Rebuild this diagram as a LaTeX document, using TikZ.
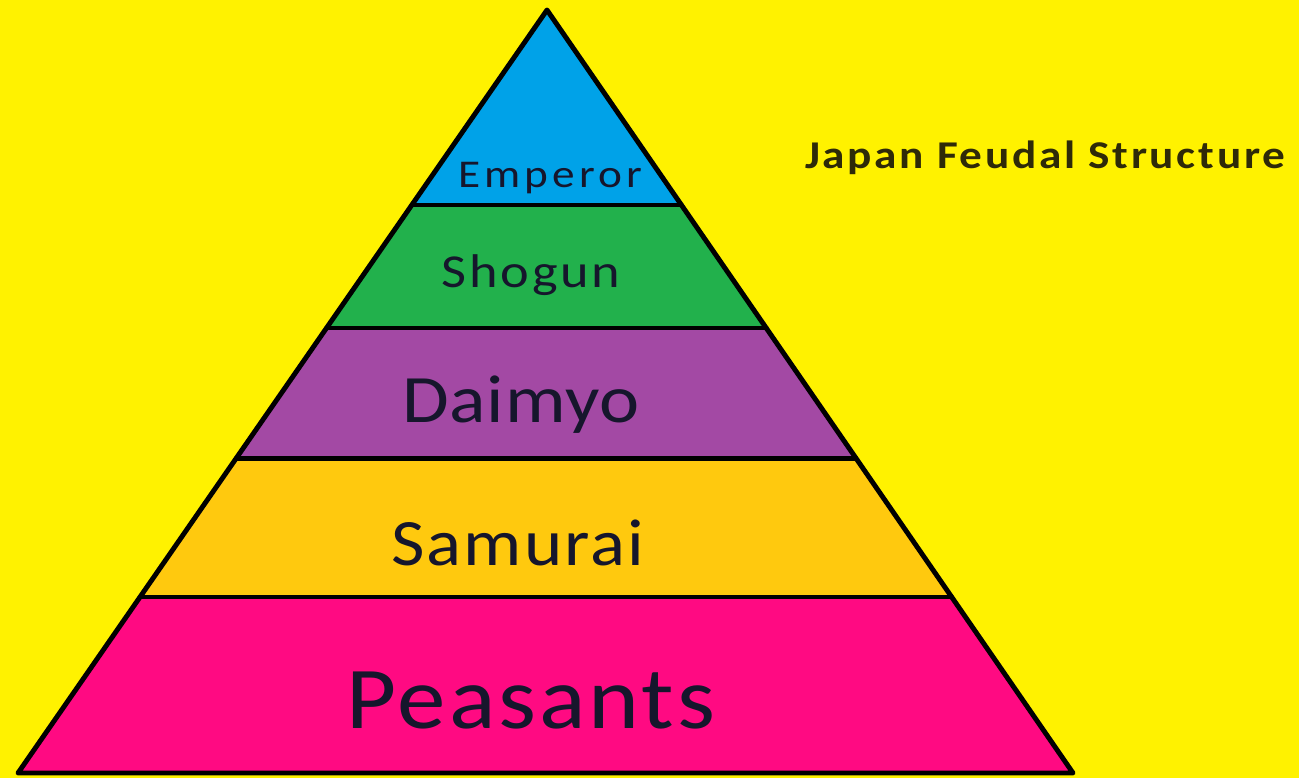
\documentclass[tikz,border=0pt]{standalone}
\usepackage{fontspec}
\usepackage{graphicx}
\setmainfont{Carlito}
\usetikzlibrary{calc}
\definecolor{bgyellow}{HTML}{FFF200}
\definecolor{emperorblue}{HTML}{00A2E8}
\definecolor{shogungreen}{HTML}{22B14C}
\definecolor{daimyopurple}{HTML}{A349A4}
\definecolor{samuraiorange}{HTML}{FFC90E}
\definecolor{peasantpink}{HTML}{FF0A82}
\definecolor{labeldark}{HTML}{16162C}
\definecolor{titledark}{HTML}{2E2A08}
\tikzset{
  edge/.style={draw=black, line width=2.8pt, line join=round, line cap=round},
  tierlabel/.style={anchor=base, inner sep=0pt, text=labeldark},
}
\begin{document}
\begin{tikzpicture}[x=0.02cm, y=-0.02cm]
\useasboundingbox (0,0) rectangle (1299,778);
\fill[bgyellow] (0,0) rectangle (1299,778);
% pyramid corners
\coordinate (A) at (547,10);
\coordinate (L) at (18,773);
\coordinate (R) at (1073,773);
% divider end points
\coordinate (l1) at ($(A)!0.2556!(L)$);
\coordinate (r1) at ($(A)!0.2556!(R)$);
\coordinate (l2) at ($(A)!0.4168!(L)$);
\coordinate (r2) at ($(A)!0.4168!(R)$);
\coordinate (l3) at ($(A)!0.5872!(L)$);
\coordinate (r3) at ($(A)!0.5872!(R)$);
\coordinate (l4) at ($(A)!0.7693!(L)$);
\coordinate (r4) at ($(A)!0.7693!(R)$);
% bands
\fill[emperorblue] (A) -- (r1) -- (l1) -- cycle;
\fill[shogungreen] (l1) -- (r1) -- (r2) -- (l2) -- cycle;
\fill[daimyopurple] (l2) -- (r2) -- (r3) -- (l3) -- cycle;
\fill[samuraiorange] (l3) -- (r3) -- (r4) -- (l4) -- cycle;
\fill[peasantpink] (l4) -- (r4) -- (R) -- (L) -- cycle;
% outlines
\draw[edge] (A) -- (R) -- (L) -- cycle;
\draw[edge] (l1) -- (r1);
\draw[edge] (l2) -- (r2);
\draw[edge] (l3) -- (r3);
\draw[edge] (l4) -- (r4);
% labels
\node[tierlabel] (emperor) at (550,187) {\scalebox{1.15}[1]{\fontsize{22.4}{26}\selectfont\addfontfeature{LetterSpace=9}Emperor}};
\node[tierlabel] (shogun) at (531,287) {\scalebox{1.15}[1]{\fontsize{26.9}{30}\selectfont\addfontfeature{LetterSpace=5}Shogun}};
\node[tierlabel] (daimyo) at (521,422) {\scalebox{1.12}[1]{\fontsize{38.6}{42}\selectfont\addfontfeature{LetterSpace=1}Daimyo}};
\node[tierlabel] (samurai) at (518,565) {\scalebox{1.1}[1]{\fontsize{37.7}{42}\selectfont\addfontfeature{LetterSpace=3}Samurai}};
\node[tierlabel] (peasants) at (531,728) {\scalebox{1.1}[1]{\fontsize{50.2}{56}\selectfont\addfontfeature{LetterSpace=3}Peasants}};
\node[anchor=base, inner sep=0pt, text=titledark] (title) at (1045,168) {\scalebox{1.15}[1]{\fontsize{22.4}{26}\selectfont\bfseries\addfontfeature{LetterSpace=6}Japan Feudal Structure}};
\end{tikzpicture}
\end{document}
